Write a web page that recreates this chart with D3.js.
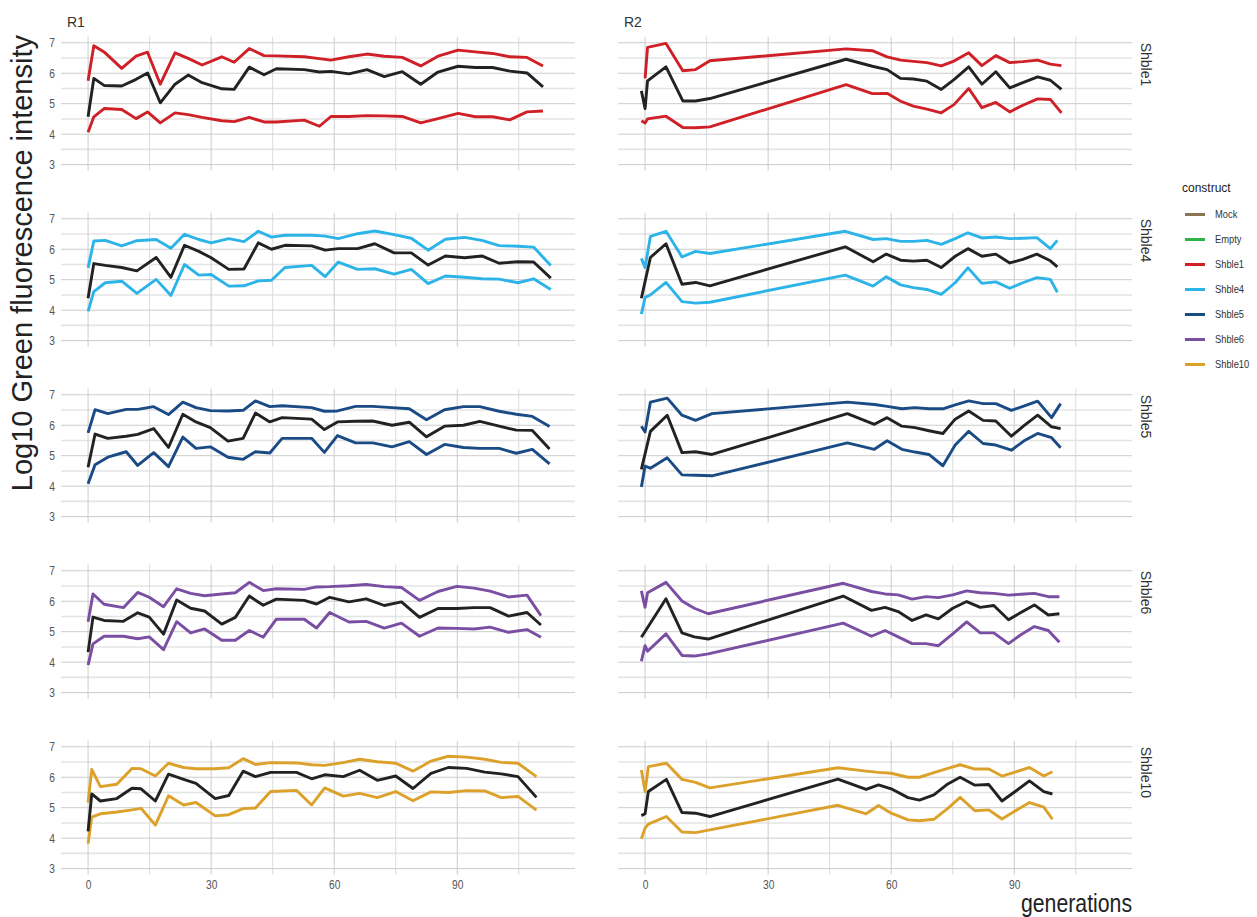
<!DOCTYPE html>
<html>
<head>
<meta charset="utf-8">
<script src="https://cdn.jsdelivr.net/npm/d3@7"></script>
<style>
  body { margin: 0; background: #fff; }
</style>
</head>
<body>
<svg width="1257" height="917"></svg>
<script>
// legend / facet categories
var constructs = ["Mock", "Empty", "Shble1", "Shble4", "Shble5", "Shble6", "Shble10"];
var constructColors = ["#8b7355", "#2db34a", "#cf2027", "#2cb4e8", "#1a4b85", "#7a4ea2", "#dca12a"];
var facetRows = ["Shble1", "Shble4", "Shble5", "Shble6", "Shble10"];
var reps = ["R1", "R2"];
var xTicks = [0, 30, 60, 90];
var xMinor = [15, 45, 75, 105];
var yTicks = [3, 4, 5, 6, 7];
var yMinor = [3.5, 4.5, 5.5, 6.5];

// ---- R1 ----
var r1GenShble1 = [0, 1.4, 3.9, 8.2, 11.7, 14.5, 17.6, 21.2, 24.4, 27.8, 32.6, 35.6, 39.3, 42.9, 45.9, 52.7, 56.4, 59.2, 63.6, 68.0, 72.2, 76.6, 81.1, 85.3, 90.2, 94.4, 98.6, 102.8, 107.0, 110.9];
var r1HiShble1  = [5.75, 6.9, 6.7, 6.16, 6.56, 6.69, 5.64, 6.67, 6.49, 6.27, 6.54, 6.36, 6.81, 6.58, 6.57, 6.54, 6.48, 6.43, 6.54, 6.63, 6.56, 6.52, 6.24, 6.56, 6.76, 6.7, 6.65, 6.54, 6.52, 6.24];
var r1MidShble1 = [4.57, 5.83, 5.6, 5.58, 5.8, 6.01, 5.03, 5.64, 5.94, 5.69, 5.49, 5.47, 6.2, 5.95, 6.15, 6.12, 6.04, 6.06, 5.98, 6.12, 5.89, 6.05, 5.64, 6.04, 6.23, 6.19, 6.19, 6.07, 6.01, 5.55];
var r1LoShble1  = [4.06, 4.57, 4.84, 4.81, 4.51, 4.73, 4.37, 4.7, 4.64, 4.55, 4.44, 4.41, 4.55, 4.4, 4.4, 4.46, 4.26, 4.58, 4.58, 4.61, 4.6, 4.58, 4.37, 4.51, 4.68, 4.57, 4.57, 4.47, 4.73, 4.76];

var r1GenShble4 = [0, 1.4, 4.2, 8.2, 11.9, 16.6, 20.2, 23.5, 27.0, 30.0, 34.3, 38.0, 41.5, 44.7, 48.0, 54.5, 57.8, 61.0, 65.7, 69.9, 74.6, 78.8, 82.9, 87.1, 91.8, 96.0, 100.2, 104.8, 108.6, 112.8];
var r1HiShble4  = [5.39, 6.27, 6.29, 6.11, 6.28, 6.32, 6.03, 6.49, 6.32, 6.21, 6.35, 6.25, 6.59, 6.4, 6.46, 6.46, 6.43, 6.35, 6.51, 6.6, 6.48, 6.36, 5.97, 6.33, 6.39, 6.29, 6.12, 6.1, 6.07, 5.47];
var r1MidShble4 = [4.39, 5.53, 5.47, 5.4, 5.29, 5.73, 5.08, 6.13, 5.93, 5.72, 5.34, 5.35, 6.21, 6.0, 6.13, 6.11, 5.97, 6.02, 6.02, 6.18, 5.88, 5.88, 5.48, 5.78, 5.72, 5.78, 5.54, 5.59, 5.58, 5.05];
var r1LoShble4  = [3.96, 4.61, 4.9, 4.95, 4.55, 5.01, 4.48, 5.5, 5.15, 5.17, 4.79, 4.8, 4.96, 4.98, 5.4, 5.47, 5.1, 5.58, 5.34, 5.36, 5.18, 5.34, 4.87, 5.12, 5.08, 5.03, 5.02, 4.9, 5.03, 4.68];

var r1GenShble5 = [0, 1.7, 4.8, 9.3, 12.1, 16.0, 19.6, 23.1, 26.3, 29.8, 34.1, 37.8, 40.8, 44.3, 47.3, 54.5, 57.6, 60.8, 65.2, 69.4, 74.1, 78.3, 82.5, 86.9, 91.5, 95.5, 100.2, 104.4, 108.3, 112.5];
var r1HiShble5  = [5.75, 6.51, 6.38, 6.52, 6.52, 6.61, 6.35, 6.76, 6.58, 6.48, 6.47, 6.49, 6.8, 6.61, 6.64, 6.58, 6.46, 6.47, 6.62, 6.62, 6.58, 6.54, 6.18, 6.51, 6.61, 6.61, 6.46, 6.36, 6.29, 5.96];
var r1MidShble5 = [4.62, 5.71, 5.57, 5.64, 5.7, 5.89, 5.27, 6.36, 6.11, 5.92, 5.48, 5.57, 6.4, 6.11, 6.25, 6.2, 5.86, 6.11, 6.13, 6.14, 6.0, 6.1, 5.62, 5.97, 6.0, 6.13, 5.97, 5.84, 5.83, 5.22];
var r1LoShble5  = [4.08, 4.7, 4.95, 5.13, 4.68, 5.1, 4.64, 5.61, 5.24, 5.29, 4.95, 4.88, 5.13, 5.09, 5.57, 5.57, 5.11, 5.66, 5.42, 5.42, 5.29, 5.46, 5.04, 5.37, 5.27, 5.24, 5.24, 5.08, 5.21, 4.73];

var r1GenShble6 = [0, 1.2, 3.9, 8.6, 12.1, 14.9, 18.4, 21.6, 25.0, 28.4, 32.6, 35.9, 39.3, 42.7, 45.9, 52.7, 55.7, 58.9, 63.6, 67.8, 72.2, 76.4, 80.8, 85.3, 89.9, 94.1, 98.0, 102.5, 107.0, 110.4];
var r1HiShble6  = [5.33, 6.24, 5.9, 5.79, 6.29, 6.13, 5.82, 6.41, 6.26, 6.18, 6.24, 6.28, 6.62, 6.35, 6.41, 6.39, 6.47, 6.48, 6.51, 6.55, 6.48, 6.45, 6.03, 6.32, 6.49, 6.43, 6.33, 6.14, 6.2, 5.53];
var r1MidShble6 = [4.33, 5.48, 5.37, 5.34, 5.62, 5.48, 4.92, 6.04, 5.77, 5.68, 5.25, 5.47, 6.17, 5.87, 6.07, 6.03, 5.91, 6.13, 5.98, 6.08, 5.86, 5.98, 5.47, 5.76, 5.76, 5.79, 5.79, 5.51, 5.63, 5.22];
var r1LoShble6  = [3.9, 4.6, 4.85, 4.85, 4.77, 4.83, 4.41, 5.33, 4.96, 5.09, 4.72, 4.72, 5.04, 4.82, 5.41, 5.41, 5.12, 5.63, 5.32, 5.34, 5.12, 5.28, 4.85, 5.12, 5.11, 5.09, 5.15, 4.98, 5.07, 4.82];

var r1GenShble10 = [0, 0.9, 3.0, 7.0, 10.7, 12.9, 16.4, 19.6, 23.3, 26.3, 31.0, 34.3, 37.8, 40.8, 44.5, 50.8, 54.5, 57.7, 62.2, 66.2, 70.5, 75.0, 79.2, 83.6, 87.8, 92.3, 96.7, 100.7, 104.8, 109.3];
var r1HiShble10  = [5.17, 6.26, 5.69, 5.77, 6.29, 6.28, 6.04, 6.46, 6.32, 6.28, 6.28, 6.31, 6.61, 6.42, 6.48, 6.47, 6.41, 6.39, 6.48, 6.59, 6.51, 6.46, 6.2, 6.53, 6.69, 6.66, 6.59, 6.49, 6.46, 6.02];
var r1MidShble10 = [4.22, 5.45, 5.22, 5.3, 5.64, 5.62, 5.22, 6.1, 5.93, 5.8, 5.3, 5.4, 6.2, 6.02, 6.16, 6.16, 5.95, 6.08, 6.02, 6.23, 5.9, 6.04, 5.63, 6.13, 6.32, 6.29, 6.17, 6.11, 6.02, 5.34];
var r1LoShble10  = [3.82, 4.69, 4.8, 4.86, 4.93, 4.98, 4.43, 5.39, 5.09, 5.17, 4.73, 4.77, 4.97, 4.99, 5.53, 5.57, 5.09, 5.65, 5.38, 5.47, 5.33, 5.53, 5.23, 5.52, 5.5, 5.56, 5.55, 5.33, 5.37, 4.92];

// ---- R2 ---- (null = no point at that generation)
var r2GenShble1 = [-0.9, 0, 0.6, 5.1, 9.2, 12.3, 15.8, 49.0, 55.4, 59.0, 62.3, 65.4, 68.7, 72.2, 75.3, 78.9, 82.1, 85.5, 88.9, 92.1, 95.7, 98.8, 101.5];
var r2HiShble1  = [null, 5.83, 6.85, 6.98, 6.08, 6.12, 6.41, 6.8, 6.74, 6.54, 6.43, 6.39, 6.35, 6.24, 6.4, 6.67, 6.25, 6.58, 6.35, 6.38, 6.43, 6.3, 6.25];
var r2MidShble1 = [5.42, 4.84, 5.75, 6.21, 5.09, 5.09, 5.17, 6.46, 6.23, 6.12, 5.83, 5.81, 5.74, 5.47, 5.79, 6.21, 5.64, 6.05, 5.52, 5.69, 5.88, 5.77, 5.47];
var r2LoShble1  = [4.44, 4.37, 4.5, 4.59, 4.22, 4.21, 4.24, 5.63, 5.33, 5.34, 5.08, 4.92, 4.82, 4.7, 4.97, 5.5, 4.87, 5.04, 4.73, 4.95, 5.16, 5.14, 4.7];

var r2GenShble4 = [-0.9, 0, 1.3, 5.1, 9.0, 12.3, 15.8, 48.8, 55.6, 58.8, 62.3, 65.4, 68.7, 72.2, 75.6, 78.7, 82.1, 85.5, 88.9, 92.1, 95.5, 98.8, 100.5];
var r2HiShble4  = [5.7, 5.4, 6.42, 6.59, 5.75, 5.93, 5.86, 6.59, 6.32, 6.35, 6.26, 6.26, 6.29, 6.16, 6.35, 6.54, 6.37, 6.4, 6.35, 6.36, 6.38, 6.02, 6.29];
var r2MidShble4 = [4.39, null, 5.73, 6.18, 4.85, 4.91, 4.8, 6.08, 5.59, 5.84, 5.64, 5.61, 5.64, 5.4, 5.77, 6.02, 5.77, 5.84, 5.55, 5.67, 5.84, 5.62, 5.42];
var r2LoShble4  = [3.87, 4.42, 4.5, 4.91, 4.28, 4.23, 4.26, 5.15, 4.79, 5.1, 4.83, 4.74, 4.68, 4.52, 4.9, 5.39, 4.88, 4.93, 4.72, 4.9, 5.07, 5.01, 4.59];

var r2GenShble5 = [-0.9, 0, 1.3, 5.4, 9.0, 12.3, 16.3, 49.3, 55.9, 59.0, 62.6, 65.8, 69.2, 72.6, 75.6, 78.9, 82.4, 85.5, 89.3, 92.3, 95.7, 99.1, 101.3];
var r2HiShble5  = [5.97, 5.78, 6.76, 6.89, 6.33, 6.16, 6.38, 6.76, 6.68, 6.62, 6.54, 6.58, 6.54, 6.54, 6.67, 6.8, 6.71, 6.71, 6.49, 6.63, 6.79, 6.25, 6.71];
var r2MidShble5 = [4.55, null, 5.8, 6.33, 5.1, 5.13, 5.04, 6.38, 6.03, 6.25, 5.97, 5.92, 5.82, 5.73, 6.2, 6.47, 6.16, 6.14, 5.64, 5.98, 6.33, 5.95, 5.89];
var r2LoShble5  = [3.97, 4.66, 4.59, 4.93, 4.37, 4.36, 4.34, 5.42, 5.21, 5.49, 5.21, 5.12, 5.04, 4.67, 5.35, 5.8, 5.4, 5.35, 5.18, 5.48, 5.73, 5.59, 5.26];

var r2GenShble6 = [-0.9, 0, 0.6, 5.1, 9.0, 12.0, 15.4, 48.3, 55.2, 58.5, 61.7, 65.1, 68.5, 71.5, 75.0, 78.4, 81.7, 85.0, 88.6, 91.6, 94.9, 98.3, 101.0];
var r2HiShble6  = [6.34, 5.8, 6.28, 6.62, 6.01, 5.77, 5.59, 6.59, 6.32, 6.24, 6.21, 6.07, 6.15, 6.12, 6.21, 6.34, 6.28, 6.26, 6.2, 6.23, 6.26, 6.15, 6.15];
var r2MidShble6 = [4.82, null, null, 6.08, 4.96, 4.83, 4.76, 6.17, 5.7, 5.8, 5.66, 5.37, 5.55, 5.42, 5.77, 5.99, 5.8, 5.86, 5.39, 5.63, 5.88, 5.55, 5.59];
var r2LoShble6  = [4.03, 4.54, 4.36, 4.93, 4.22, 4.2, 4.27, 5.28, 4.85, 5.04, 4.83, 4.61, 4.61, 4.54, 4.93, 5.32, 4.96, 4.96, 4.61, 4.9, 5.17, 5.04, 4.65];

var r2GenShble10 = [-0.9, 0, 0.8, 5.2, 9.0, 12.3, 15.8, 47.0, 53.9, 56.9, 60.0, 64.1, 66.9, 70.4, 73.8, 76.8, 80.4, 83.8, 87.0, 90.4, 93.7, 97.2, 99.3];
var r2HiShble10  = [6.24, 5.53, 6.35, 6.46, 5.93, 5.83, 5.65, 6.31, 6.2, 6.16, 6.13, 6.0, 6.0, 6.15, 6.29, 6.41, 6.27, 6.27, 6.04, 6.18, 6.32, 6.04, 6.18];
var r2MidShble10 = [4.74, 4.8, 5.53, 5.93, 4.84, 4.82, 4.71, 5.94, 5.6, 5.75, 5.62, 5.33, 5.25, 5.42, 5.78, 6.0, 5.74, 5.76, 5.22, 5.55, 5.88, 5.53, 5.45];
var r2LoShble10  = [3.98, 4.33, 4.46, 4.71, 4.2, 4.18, 4.27, 5.08, 4.8, 5.07, 4.82, 4.6, 4.57, 4.62, 4.98, 5.34, 4.9, 4.93, 4.63, 4.91, 5.17, 5.02, 4.62];

// table the facets are drawn from
var panels = [
  {rep: "R1", construct: "Shble1",  gen: r1GenShble1,  hi: r1HiShble1,  mid: r1MidShble1,  lo: r1LoShble1},
  {rep: "R2", construct: "Shble1",  gen: r2GenShble1,  hi: r2HiShble1,  mid: r2MidShble1,  lo: r2LoShble1},
  {rep: "R1", construct: "Shble4",  gen: r1GenShble4,  hi: r1HiShble4,  mid: r1MidShble4,  lo: r1LoShble4},
  {rep: "R2", construct: "Shble4",  gen: r2GenShble4,  hi: r2HiShble4,  mid: r2MidShble4,  lo: r2LoShble4},
  {rep: "R1", construct: "Shble5",  gen: r1GenShble5,  hi: r1HiShble5,  mid: r1MidShble5,  lo: r1LoShble5},
  {rep: "R2", construct: "Shble5",  gen: r2GenShble5,  hi: r2HiShble5,  mid: r2MidShble5,  lo: r2LoShble5},
  {rep: "R1", construct: "Shble6",  gen: r1GenShble6,  hi: r1HiShble6,  mid: r1MidShble6,  lo: r1LoShble6},
  {rep: "R2", construct: "Shble6",  gen: r2GenShble6,  hi: r2HiShble6,  mid: r2MidShble6,  lo: r2LoShble6},
  {rep: "R1", construct: "Shble10", gen: r1GenShble10, hi: r1HiShble10, mid: r1MidShble10, lo: r1LoShble10},
  {rep: "R2", construct: "Shble10", gen: r2GenShble10, hi: r2HiShble10, mid: r2MidShble10, lo: r2LoShble10}
];

var svg = d3.select("svg"),
    panelW = 514,
    panelH = 134,
    colLeft = [61, 618],
    rowTop = 36.7,
    rowStep = 176,
    font = "'Liberation Sans', Arial, sans-serif";

var color = d3.scaleOrdinal().domain(constructs).range(constructColors);

var x = d3.scaleLinear().domain([-6.6, 118.7]).range([0, panelW]);
var y = d3.scaleLinear().domain([2.8, 7.2]).range([panelH, 0]);

var line = d3.line()
    .x(function(d) { return x(d.g); })
    .y(function(d) { return y(d.v); });

function points(gen, vals) {
  return gen.map(function(g, i) { return {g: g, v: vals[i]}; })
            .filter(function(d) { return d.v != null; });
}

// the reference uses a condensed face; squeeze the tick text horizontally
function condense(sel, k) {
  sel.each(function() {
    var t = d3.select(this),
        tx = +t.attr("x") || 0;
    t.attr("transform", "translate(" + tx + ",0) scale(" + k + ",1) translate(" + (-tx) + ",0)");
  });
}

panels.forEach(function(p) {
  var col = reps.indexOf(p.rep),
      row = facetRows.indexOf(p.construct),
      g = svg.append("g")
        .attr("transform", "translate(" + colLeft[col] + "," + (rowTop + row * rowStep) + ")");

  // grid
  g.selectAll(".ymin").data(yMinor).enter().append("line")
    .attr("x1", 0).attr("x2", panelW)
    .attr("y1", function(d) { return y(d); }).attr("y2", function(d) { return y(d); })
    .attr("stroke", "#e4e4e4").attr("stroke-width", 1.6);
  g.selectAll(".xmin").data(xMinor).enter().append("line")
    .attr("y1", 0).attr("y2", panelH)
    .attr("x1", function(d) { return x(d); }).attr("x2", function(d) { return x(d); })
    .attr("stroke", "#dcdcdc").attr("stroke-width", 1);
  g.selectAll(".ymaj").data(yTicks).enter().append("line")
    .attr("x1", 0).attr("x2", panelW)
    .attr("y1", function(d) { return y(d); }).attr("y2", function(d) { return y(d); })
    .attr("stroke", "#cccccc").attr("stroke-width", 1);
  g.selectAll(".xmaj").data(xTicks).enter().append("line")
    .attr("y1", 0).attr("y2", panelH)
    .attr("x1", function(d) { return x(d); }).attr("x2", function(d) { return x(d); })
    .attr("stroke", "#cccccc").attr("stroke-width", 1);

  // y labels only on the left column
  if (col === 0) {
    var ya = g.append("g")
      .call(d3.axisLeft(y).tickValues(yTicks).tickFormat(d3.format("d")).tickSize(0).tickPadding(6));
    ya.select(".domain").remove();
    ya.selectAll("text").attr("font-family", font).attr("font-size", 12.5).attr("fill", "#555")
      .call(condense, 0.82);
  }
  // x labels only on the bottom row
  if (row === facetRows.length - 1) {
    var xa = g.append("g")
      .attr("transform", "translate(0," + panelH + ")")
      .call(d3.axisBottom(x).tickValues(xTicks).tickFormat(d3.format("d")).tickSize(0).tickPadding(5));
    xa.select(".domain").remove();
    xa.selectAll("text").attr("font-family", font).attr("font-size", 12.5).attr("fill", "#555")
      .call(condense, 0.82);
  }

  // series
  var series = [
    {vals: p.hi, stroke: color(p.construct)},
    {vals: p.lo, stroke: color(p.construct)},
    {vals: p.mid, stroke: "#222222"}
  ];
  g.selectAll(".series").data(series).enter().append("path")
    .attr("fill", "none")
    .attr("stroke", function(s) { return s.stroke; })
    .attr("stroke-width", 2.9)
    .attr("stroke-linejoin", "round")
    .attr("d", function(s) { return line(points(p.gen, s.vals)); });

  // top strip (rep)
  if (row === 0) {
    g.append("text")
      .attr("x", 6).attr("y", -10)
      .attr("font-family", font).attr("font-size", 14).attr("fill", "#333")
      .text(p.rep);
  }
  // right strip (construct)
  if (col === 1) {
    g.append("text")
      .attr("transform", "translate(" + (panelW + 9) + "," + 6 + ") rotate(90)")
      .attr("font-family", font).attr("font-size", 14).attr("fill", "#333")
      .text(p.construct);
  }
});

// axis titles
svg.append("text")
  .attr("x", colLeft[1] + panelW).attr("y", 912)
  .attr("text-anchor", "end")
  .attr("font-family", font).attr("font-size", 25).attr("fill", "#222")
  .attr("textLength", 111).attr("lengthAdjust", "spacingAndGlyphs")
  .text("generations");

svg.append("text")
  .attr("transform", "translate(32,35) rotate(-90)")
  .attr("text-anchor", "end")
  .attr("font-family", font).attr("font-size", 29).attr("fill", "#222")
  .text("Log10 Green fluorescence intensity");

// legend
var legend = svg.append("g").attr("transform", "translate(1182,192)");
legend.append("text")
  .attr("font-family", font).attr("font-size", 12).attr("fill", "#222")
  .text("construct");
var item = legend.selectAll(".item").data(constructs).enter().append("g")
  .attr("transform", function(d, i) { return "translate(0," + (22.5 + i * 25) + ")"; });
item.append("line")
  .attr("x1", 3).attr("x2", 23)
  .attr("stroke", function(d) { return color(d); })
  .attr("stroke-width", 3);
item.append("text")
  .attr("x", 33).attr("y", 3.5)
  .attr("font-family", font).attr("font-size", 11).attr("fill", "#333")
  .call(condense, 0.85)
  .text(function(d) { return d; });
</script>
</body>
</html>
